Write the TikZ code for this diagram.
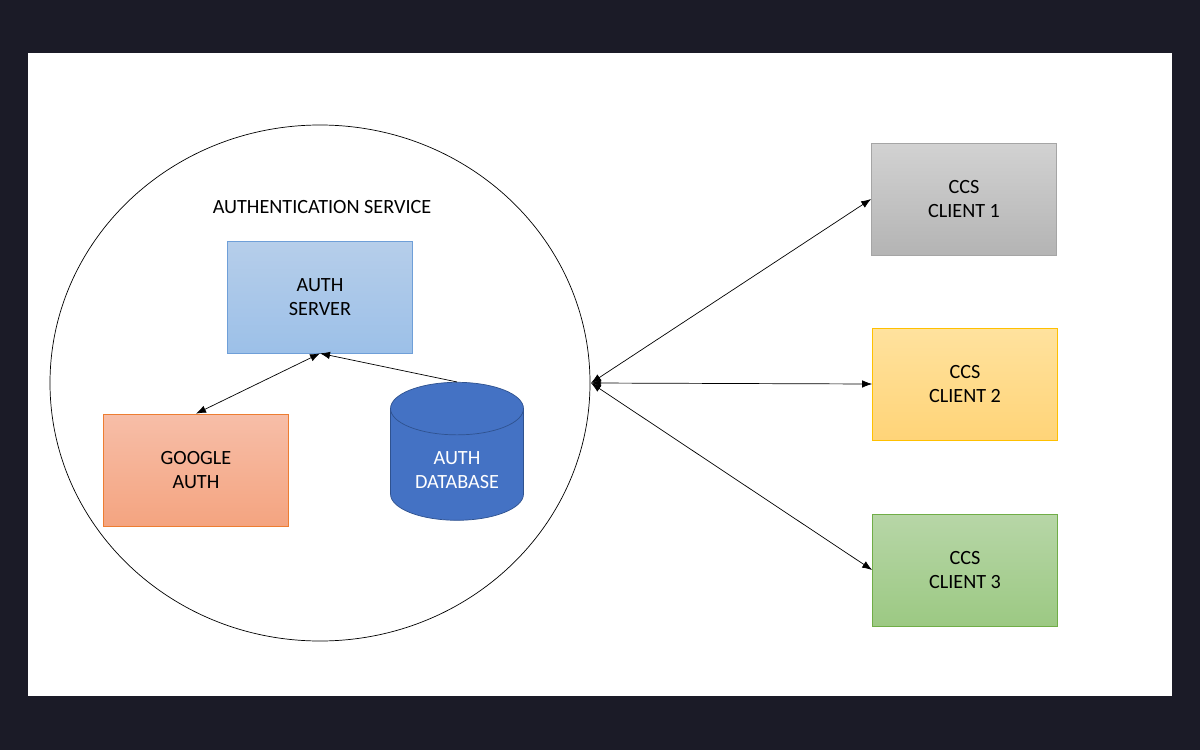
\documentclass[tikz,border=0pt]{standalone}
\usepackage{fontspec}
\setmainfont{Carlito}
\usetikzlibrary{arrows.meta, positioning, shapes.geometric}
\definecolor{pagebg}{HTML}{1B1B27}
\tikzset{
  box/.style = {rectangle, align=center, minimum width=3.7cm, minimum height=2.24cm,
    font=\fontsize{11.5}{14}\selectfont, inner sep=1pt},
  bluebox/.style = {box, top color={rgb,255:red,182;green,206;blue,234}, bottom color={rgb,255:red,156;green,192;blue,232}, draw={rgb,255:red,111;green,159;blue,216}},
  orangebox/.style = {box, top color={rgb,255:red,247;green,190;blue,168}, bottom color={rgb,255:red,244;green,164;blue,128}, draw={rgb,255:red,237;green,125;blue,49}},
  graybox/.style = {box, top color={rgb,255:red,210;green,210;blue,210}, bottom color={rgb,255:red,180;green,180;blue,180}, draw={rgb,255:red,165;green,165;blue,165}},
  yellowbox/.style = {box, top color={rgb,255:red,255;green,226;blue,158}, bottom color={rgb,255:red,255;green,212;blue,120}, draw={rgb,255:red,255;green,192;blue,0}},
  greenbox/.style = {box, top color={rgb,255:red,183;green,214;blue,167}, bottom color={rgb,255:red,156;green,201;blue,131}, draw={rgb,255:red,112;green,173;blue,71}},
  dbase/.style = {cylinder, shape border rotate=90, aspect=0.55, draw={rgb,255:red,47;green,82;blue,143},
    fill={rgb,255:red,68;green,114;blue,196}, text=white, align=center,
    minimum width=2.66cm, minimum height=2.76cm, font=\fontsize{11.5}{14}\selectfont},
  link/.style = {{Latex[length=2mm]}-{Latex[length=2mm]}, thin},
}
\begin{document}
\begin{tikzpicture}[x=0.02cm, y=-0.02cm]
\fill [pagebg] (0,0) rectangle (1200,750);
\fill [white] (28,53) rectangle (1172,696);

% authentication service
\draw (320,383) ellipse [x radius=270, y radius=258];
\coordinate (hub) at (591,383);
\node [font=\fontsize{11.5}{14}\selectfont] (title) at (322,207) {AUTHENTICATION SERVICE};
\node [bluebox] (server) at (320,297) {AUTH\\SERVER};
\node [orangebox] (google) at (196,470) {GOOGLE\\AUTH};
\node [dbase] (db) at (457,470) {AUTH\\DATABASE};

\draw [link] (server.south) -- (google.north);
\draw [-{Latex[length=2mm]}, thin] (db.north) -- (server.south);

% clients
\node [graybox] (client1) at (964,199) {CCS\\CLIENT 1};
\node [yellowbox] (client2) at (965,384) {CCS\\CLIENT 2};
\node [greenbox] (client3) at (965,570) {CCS\\CLIENT 3};

\draw [link] (hub) -- (client1.west);
\draw [link] (hub) -- (client2.west);
\draw [link] (hub) -- (client3.west);
\end{tikzpicture}
\end{document}
